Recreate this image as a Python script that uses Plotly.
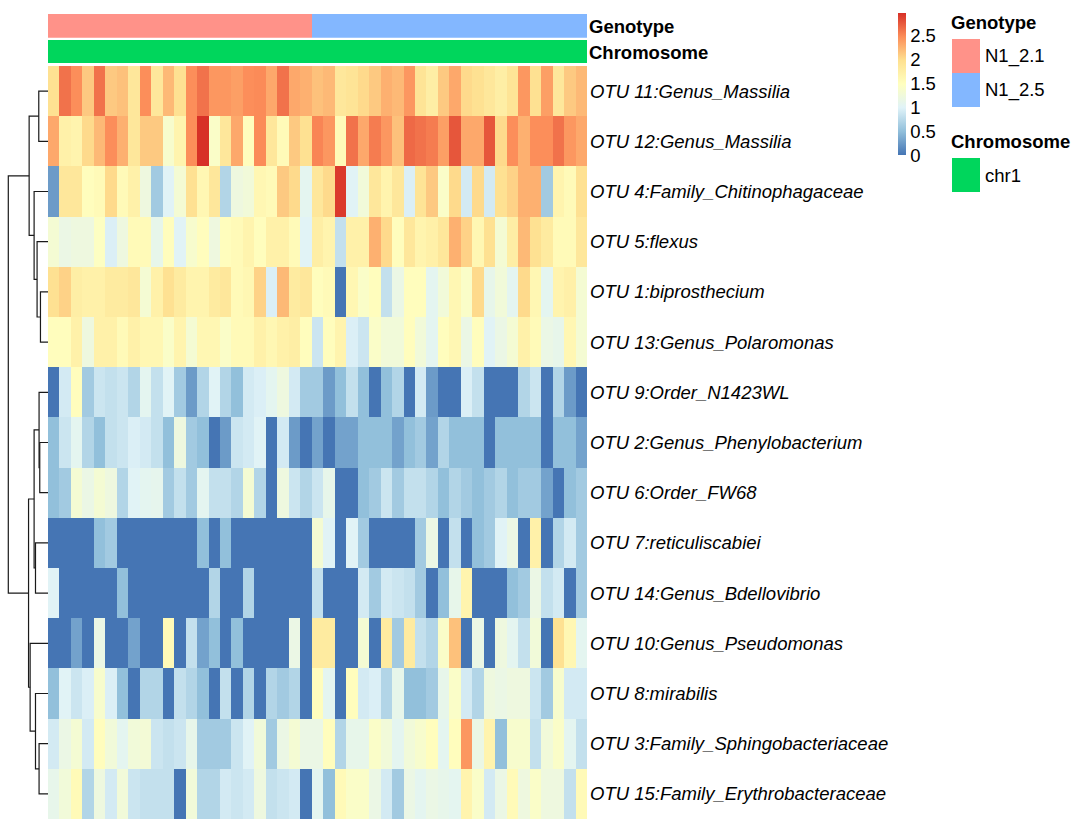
import plotly.graph_objects as go

W, H = 1079, 819
FONT = "Liberation Sans, Arial, Helvetica, sans-serif"

row_labels = [
    "OTU 11:Genus_Massilia", "OTU 12:Genus_Massilia", "OTU 4:Family_Chitinophagaceae",
    "OTU 5:flexus", "OTU 1:biprosthecium", "OTU 13:Genus_Polaromonas",
    "OTU 9:Order_N1423WL", "OTU 2:Genus_Phenylobacterium", "OTU 6:Order_FW68",
    "OTU 7:reticuliscabiei", "OTU 14:Genus_Bdellovibrio", "OTU 10:Genus_Pseudomonas",
    "OTU 8:mirabilis", "OTU 3:Family_Sphingobacteriaceae", "OTU 15:Family_Erythrobacteraceae",
]

otu11 = [1.95, 2.6, 2.45, 2.1, 2.6, 2.1, 2.15, 1.85, 2.45, 1.85, 2.2, 1.95, 2.45, 2.6, 2.4, 2.4, 2.35, 2.45, 2.47, 2.3, 2.6, 2.3, 2.25,
         2.15, 2.2, 1.85, 1.9, 2.0, 2.1, 2.25, 2.2, 2.4, 1.9, 1.75, 2.1, 2.3, 2.0, 1.95, 1.85, 1.75, 1.9, 2.4, 1.95, 2.35, 1.85, 2.1, 2.2]
otu12 = [2.3, 1.7, 1.65, 2.0, 2.2, 2.45, 2.25, 1.85, 2.1, 2.1, 1.35, 1.65, 2.45, 2.95, 1.4, 1.85, 2.3, 1.5, 2.47, 1.85, 1.55, 2.1, 1.95,
         2.5, 2.4, 1.55, 2.6, 2.3, 2.55, 2.4, 2.15, 2.65, 2.6, 2.55, 2.35, 2.75, 2.3, 2.3, 2.75, 2.0, 2.45, 2.25, 2.45, 2.45, 2.6, 2.4, 2.3]
otu4 = [0.25, 1.85, 1.85, 1.5, 1.55, 2.0, 1.55, 1.7, 1.2, 0.6, 1.0, 1.3, 1.95, 1.6, 1.85, 0.7, 1.2, 1.25, 1.6, 1.55, 2.1, 2.0, 1.05,
        1.85, 2.0, 2.9, 1.0, 1.25, 1.85, 1.65, 1.85, 0.95, 1.9, 2.1, 1.4, 2.0, 0.9, 2.0, 0.9, 1.95, 2.05, 2.25, 2.25, 0.6, 1.65, 1.55, 1.95]
otu5 = [1.3, 1.15, 1.2, 1.2, 1.45, 0.95, 1.2, 1.55, 1.55, 1.1, 1.5, 1.0, 1.35, 1.5, 1.2, 1.5, 1.55, 1.65, 1.5, 1.7, 1.7, 1.55, 1.0,
        1.75, 1.65, 0.8, 1.7, 1.7, 2.25, 2.0, 1.5, 1.85, 1.65, 1.72, 1.85, 2.25, 2.05, 1.6, 1.95, 1.3, 1.75, 2.2, 1.95, 1.8, 1.55, 1.55, 1.85]
otu1 = [1.95, 2.05, 1.75, 1.7, 1.7, 1.8, 1.8, 1.85, 1.3, 1.7, 1.95, 1.8, 1.65, 1.65, 1.8, 1.85, 1.55, 1.6, 2.05, 0.95, 2.2, 1.8, 1.85,
        1.5, 1.55, 0.0, 1.6, 1.4, 1.5, 0.8, 1.15, 1.5, 1.5, 1.05, 1.25, 1.6, 1.4, 2.0, 1.1, 1.25, 1.05, 2.0, 1.6, 1.05, 1.65, 1.72, 1.3]
otu13 = [1.5, 1.5, 1.7, 1.2, 1.7, 1.7, 1.55, 1.7, 1.6, 1.6, 1.4, 1.65, 1.3, 1.6, 1.6, 1.4, 1.55, 1.55, 1.7, 1.6, 1.7, 1.75, 1.5,
         0.85, 1.5, 1.65, 0.95, 0.85, 1.4, 1.25, 1.25, 1.5, 1.25, 1.05, 1.5, 1.6, 1.15, 1.5, 1.0, 1.15, 1.3, 1.7, 1.55, 1.15, 1.1, 1.6, 1.3]
otu9 = [0.0, 0.9, 1.5, 0.6, 0.85, 0.8, 0.85, 0.7, 1.05, 0.8, 1.0, 0.6, 0.25, 0.7, 1.0, 0.7, 0.5, 0.9, 0.95, 1.05, 1.2, 0.9, 0.6,
        0.6, 0.25, 0.5, 0.8, 0.5, 0.0, 0.5, 0.7, 0.0, 0.9, 0.25, 0.0, 0.0, 0.95, 0.8, 0.0, 0.0, 0.0, 0.7, 0.85, 0.0, 0.7, 0.25, 0.0]
otu2 = [0.5, 0.85, 1.05, 0.7, 0.5, 0.8, 0.85, 0.95, 0.9, 0.8, 0.5, 1.2, 0.6, 0.5, 0.0, 0.25, 0.85, 0.9, 1.0, 0.0, 0.9, 0.25, 0.0,
        0.3, 0.0, 0.3, 0.3, 0.5, 0.5, 0.5, 0.3, 0.5, 0.6, 0.3, 0.7, 0.5, 0.5, 0.5, 0.0, 0.5, 0.5, 0.5, 0.5, 0.0, 0.5, 0.5, 0.3]
otu6 = [0.5, 0.6, 1.3, 1.15, 1.3, 1.2, 0.7, 1.0, 1.05, 1.08, 0.6, 0.8, 0.6, 1.05, 0.8, 0.8, 0.7, 1.3, 0.7, 0.0, 1.2, 0.85, 0.7,
        0.85, 1.1, 0.0, 0.0, 0.5, 0.6, 0.85, 0.6, 0.8, 0.8, 0.7, 0.5, 0.7, 0.6, 0.5, 0.6, 0.7, 0.5, 0.6, 0.6, 0.3, 0.0, 0.5, 0.6]
otu7 = [0, 0, 0, 0, 0.5, 0.6, 0, 0, 0, 0, 0, 0, 0, 0.5, 0, 0.5, 0, 0, 0, 0, 0, 0, 0,
        1.3, 1.0, 0, 1.0, 0.6, 0, 0, 0, 0, 0.6, 1.15, 0, 0.8, 0, 0.5, 0.6, 1.0, 1.15, 0, 1.7, 0, 0.7, 0.9, 0.6]
otu14 = [1.0, 0, 0, 0, 0, 0, 0.5, 0, 0, 0, 0, 0, 0, 0, 0.7, 0, 0, 0.7, 0, 0, 0, 0, 0,
         0.8, 0, 0, 0, 0.9, 0.6, 0.9, 0.85, 0.8, 0.6, 0, 0.5, 1.1, 1.65, 0, 0, 0, 0.5, 0.6, 1.15, 0.8, 0.9, 0, 0.6]
otu10 = [0, 0, 0.3, 0, 1.15, 0, 0, 0.3, 0, 0, 1.55, 0, 0.8, 0.3, 0.5, 0, 0.5, 0, 0, 0, 0, 1.15, 0,
         1.8, 1.8, 0, 0, 1.3, 0, 1.8, 0.6, 1.8, 0.8, 0.7, 1.4, 2.15, 0, 1.15, 0, 1.2, 1.05, 0.8, 1.25, 0, 1.95, 1.6, 1.05]
otu8 = [0.5, 1.0, 0.85, 0.95, 1.35, 0.95, 0.5, 0, 0.7, 0.7, 0, 0.8, 0.7, 0.5, 0, 0.8, 0, 0.7, 0, 0.7, 0.6, 0.7, 0,
        1.5, 1.05, 0, 1.5, 0.9, 0.95, 0.7, 1.1, 0.5, 0.5, 0.6, 1.1, 1.4, 0.9, 0.7, 1.2, 1.15, 1.2, 1.2, 0.85, 0.6, 1.35, 0.9, 0.9]
otu3 = [0.9, 1.15, 1.3, 0.9, 1.5, 1.25, 1.05, 1.25, 1.28, 0.85, 0.8, 0.85, 1.1, 0.6, 0.6, 0.6, 0.85, 1.0, 1.25, 0.6, 1.15, 1.3, 1.15,
        1.15, 1.5, 0.7, 1.1, 1.1, 1.4, 1.25, 1.05, 1.25, 1.35, 1.5, 1.05, 1.5, 2.4, 1.15, 1.65, 0.5, 1.35, 1.35, 0.8, 1.25, 1.4, 1.05, 0.8]
otu15 = [1.1, 1.25, 1.55, 0.7, 1.2, 0.9, 1.25, 0.85, 0.8, 0.8, 0.8, 0, 1.25, 0.7, 0.7, 0.9, 0.85, 0.9, 1.2, 0.8, 0.85, 0.9, 0,
         1.05, 0.5, 1.55, 1.4, 1.4, 1.15, 0.9, 0.6, 1.15, 1.05, 1.15, 1.1, 1.05, 1.65, 1.4, 0.9, 1.15, 1.55, 1.2, 1.4, 1.2, 1.2, 0.8, 1.55]

matrix = [otu11, otu12, otu4, otu5, otu1, otu13, otu9, otu2, otu6, otu7, otu14, otu10, otu8, otu3, otu15]
n_cols = len(otu11)

# column annotations
genotype_levels = ["N1_2.1", "N1_2.5"]
genotype_counts = [23, 24]
chromosome_levels = ["chr1"]
genotype_colors = ["#FF9289", "#83B7FF"]
chromosome_colors = ["#00D65C"]

# row dendrogram (leaf indices 0-14 in display order, internal nodes numbered 15+)
merge_left = [4, 3, 2, 0, 18, 7, 6, 9, 21, 13, 12, 11, 23, 19]
merge_right = [5, 15, 16, 1, 17, 8, 20, 10, 22, 14, 24, 25, 26, 27]
merge_height = [0.76, 1.10, 1.40, 0.93, 1.90, 0.83, 0.90, 1.26, 1.40, 0.90, 1.26, 1.80, 1.96, 4.00]

tick_vals = [0, 0.5, 1, 1.5, 2, 2.5]
z_min, z_max = 0.0, 2.95

palette = ["#4575B4", "#91BFDB", "#E0F3F8", "#FFFFBF", "#FEE090", "#FC8D59", "#D73027"]
colorscale = [[i / (len(palette) - 1), c] for i, c in enumerate(palette)]

# ---------- layout geometry (pixels) ----------
hm_left, hm_right = 48, 587
hm_top = 66
geno_top, geno_bot = 14, 37.7
chr_top, chr_bot = 40, 63.3


def py(p):
    return 1 - p / H


fig = go.Figure()

# main heatmap
fig.add_trace(go.Heatmap(
    z=matrix, x=list(range(n_cols)), y=list(range(len(row_labels))),
    colorscale=colorscale, zmin=z_min, zmax=z_max,
    xaxis="x", yaxis="y", hoverinfo="skip",
    colorbar=dict(
        thickness=8, thicknessmode="pixels",
        len=(z_max - z_min) * 48.0, lenmode="pixels",
        x=898 / W, xanchor="left", y=py(13.4), yanchor="top",
        xpad=0, ypad=0, outlinewidth=0,
        tickvals=tick_vals, ticktext=[f"{v:g}" for v in tick_vals],
        ticks="", ticklen=0,
        tickfont=dict(family=FONT, size=18.5, color="black"),
    ),
))

# genotype annotation bar
geno_codes = []
for k, cnt in enumerate(genotype_counts):
    geno_codes += [k] * cnt
fig.add_trace(go.Heatmap(
    z=[geno_codes], x=list(range(n_cols)), y=[0],
    colorscale=[[0, genotype_colors[0]], [0.5, genotype_colors[0]], [0.5, genotype_colors[1]], [1, genotype_colors[1]]],
    zmin=0, zmax=1, showscale=False, xaxis="x", yaxis="y3", hoverinfo="skip",
))
# chromosome annotation bar
fig.add_trace(go.Heatmap(
    z=[[0] * n_cols], x=list(range(n_cols)), y=[0],
    colorscale=[[0, chromosome_colors[0]], [1, chromosome_colors[0]]],
    zmin=0, zmax=1, showscale=False, xaxis="x", yaxis="y4", hoverinfo="skip",
))

# dendrogram
n_leaves = len(row_labels)
pos = {i: float(i) for i in range(n_leaves)}
hgt = {i: 0.0 for i in range(n_leaves)}
dx, dy = [], []
for k, (a, b, h) in enumerate(zip(merge_left, merge_right, merge_height)):
    node = n_leaves + k
    dx += [hgt[a], h, h, hgt[b], None]
    dy += [pos[a], pos[a], pos[b], pos[b], None]
    pos[node] = (pos[a] + pos[b]) / 2
    hgt[node] = h
fig.add_trace(go.Scatter(
    x=dx, y=dy, mode="lines", line=dict(color="#1a1a1a", width=1.2),
    xaxis="x2", yaxis="y", hoverinfo="skip", showlegend=False,
))

annotations = []
for i, lab in enumerate(row_labels):
    annotations.append(dict(
        text=f"<i>{lab}</i>", xref="paper", x=588 / W, xanchor="left",
        yref="y", y=i, yanchor="middle", showarrow=False,
        font=dict(family=FONT, size=18.5, color="black"),
    ))
annotations.append(dict(text="<b>Genotype</b>", xref="paper", x=587 / W, xanchor="left",
                        yref="paper", y=py((geno_top + geno_bot) / 2 + 1), yanchor="middle",
                        showarrow=False, font=dict(family=FONT, size=18.5, color="black")))
annotations.append(dict(text="<b>Chromosome</b>", xref="paper", x=587 / W, xanchor="left",
                        yref="paper", y=py((chr_top + chr_bot) / 2 + 1), yanchor="middle",
                        showarrow=False, font=dict(family=FONT, size=18.5, color="black")))

# legends for the column annotations
shapes = []
leg_x0, leg_x1 = 952, 980
annotations.append(dict(text="<b>Genotype</b>", xref="paper", x=949 / W, xanchor="left",
                        yref="paper", y=py(22), yanchor="middle", showarrow=False,
                        font=dict(family=FONT, size=18.5, color="black")))
for k, (lev, col) in enumerate(zip(genotype_levels, genotype_colors)):
    y0 = 39 + 34 * k
    shapes.append(dict(type="rect", xref="paper", yref="paper", x0=leg_x0 / W, x1=leg_x1 / W,
                       y0=py(y0 + 34), y1=py(y0), fillcolor=col, line=dict(width=0)))
    annotations.append(dict(text=lev, xref="paper", x=983 / W, xanchor="left",
                            yref="paper", y=py(y0 + 17), yanchor="middle", showarrow=False,
                            font=dict(family=FONT, size=18.5, color="black")))
annotations.append(dict(text="<b>Chromosome</b>", xref="paper", x=949 / W, xanchor="left",
                        yref="paper", y=py(141), yanchor="middle", showarrow=False,
                        font=dict(family=FONT, size=18.5, color="black")))
for k, (lev, col) in enumerate(zip(chromosome_levels, chromosome_colors)):
    y0 = 158 + 34 * k
    shapes.append(dict(type="rect", xref="paper", yref="paper", x0=leg_x0 / W, x1=leg_x1 / W,
                       y0=py(y0 + 34), y1=py(y0), fillcolor=col, line=dict(width=0)))
    annotations.append(dict(text=lev, xref="paper", x=983 / W, xanchor="left",
                            yref="paper", y=py(y0 + 17), yanchor="middle", showarrow=False,
                            font=dict(family=FONT, size=18.5, color="black")))

hidden = dict(showgrid=False, zeroline=False, showticklabels=False, ticks="", showline=False)
fig.update_layout(
    width=W, height=H, margin=dict(l=0, r=0, t=0, b=0),
    paper_bgcolor="white", plot_bgcolor="white", showlegend=False,
    xaxis=dict(domain=[hm_left / W, hm_right / W], range=[-0.5, n_cols - 0.5], **hidden),
    yaxis=dict(domain=[0, py(hm_top)], range=[n_leaves - 0.5, -0.5], **hidden),
    xaxis2=dict(domain=[0, hm_left / W], range=[4.0 * 48 / 39.7, 0], anchor="y", **hidden),
    yaxis3=dict(domain=[py(geno_bot), py(geno_top)], range=[-0.5, 0.5], anchor="x", **hidden),
    yaxis4=dict(domain=[py(chr_bot), py(chr_top)], range=[-0.5, 0.5], anchor="x", **hidden),
    annotations=annotations, shapes=shapes,
    font=dict(family=FONT),
)

fig.write_html("out.html")
